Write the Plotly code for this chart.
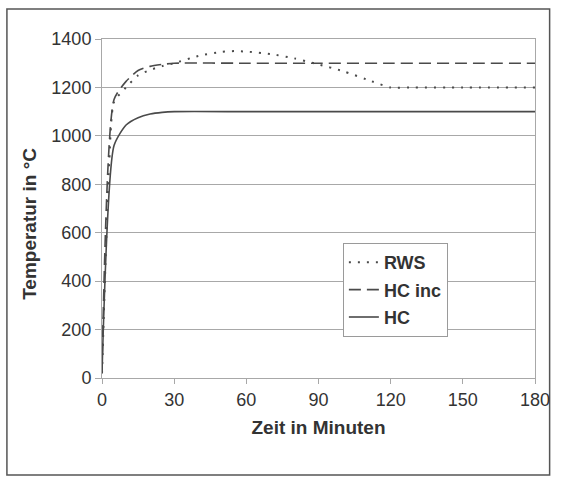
import plotly.graph_objects as go

# Time in minutes and temperatures in °C
rws_t = [0, 3, 5, 10, 15, 20, 25, 30, 40, 50, 55, 60, 70, 80, 90, 100, 110, 120, 130, 150, 180]
rws_T = [20, 890, 1140, 1200, 1250, 1272, 1288, 1300, 1330, 1347, 1350, 1348, 1338, 1320, 1295, 1268, 1233, 1200, 1200, 1200, 1200]

hcinc_t = [0, 5, 10, 15, 20, 25, 30, 60, 90, 120, 150, 180]
hcinc_T = [20, 1150, 1225, 1270, 1287, 1295, 1300, 1300, 1300, 1300, 1300, 1300]

hc_t = [0, 5, 10, 15, 20, 25, 30, 60, 90, 120, 150, 180]
hc_T = [20, 960, 1045, 1075, 1090, 1097, 1100, 1100, 1100, 1100, 1100, 1100]

x_ticks = [0, 30, 60, 90, 120, 150, 180]
y_ticks = [0, 200, 400, 600, 800, 1000, 1200, 1400]

FONT = "Liberation Sans, Arial, sans-serif"
LINE = "#4a4a4a"
GRID = "#a8a8a8"

fig = go.Figure()
fig.add_trace(go.Scatter(x=rws_t, y=rws_T, name="RWS", mode="lines", legendgroup="a",
                         line=dict(color=LINE, width=2, dash="2px,7px", shape="spline", smoothing=0.6)))
fig.add_trace(go.Scatter(x=hcinc_t, y=hcinc_T, name="HC inc", mode="lines", legendgroup="b",
                         line=dict(color=LINE, width=1.6, dash="12px,6px", shape="spline", smoothing=0.6)))
fig.add_trace(go.Scatter(x=hc_t, y=hc_T, name="HC", mode="lines", legendgroup="c",
                         line=dict(color=LINE, width=1.6, shape="spline", smoothing=0.6)))

L, R, T, B = 102, 16, 39, 99
W, H = 562, 477
pw, ph = W - L - R, H - T - B

def px2paper_x(px):
    return (px - L) / pw

def px2paper_y(py):
    return (H - B - py) / ph

fig.update_layout(
    width=W, height=H,
    margin=dict(l=L, r=R, t=T, b=B),
    paper_bgcolor="white", plot_bgcolor="white",
    font=dict(family=FONT, color="#333333", size=18),
    showlegend=True,
    legend=dict(x=px2paper_x(349), y=px2paper_y(243), xanchor="left", yanchor="top",
                bgcolor="white", bordercolor="#9a9a9a", borderwidth=1,
                font=dict(family=FONT, size=18, color="#333333", weight="bold"),
                itemwidth=30, traceorder="grouped", tracegroupgap=1),
    xaxis=dict(range=[0, 180], tickvals=x_ticks, ticktext=[str(v) for v in x_ticks],
               showgrid=False, zeroline=False, showline=True, linecolor=GRID, linewidth=1,
               mirror=True, ticks="outside", ticklen=5, tickcolor=GRID,
               tickfont=dict(size=18, color="#333333"),
               title=dict(text="Zeit in Minuten", font=dict(size=19, color="#333333", weight="bold"),
                          standoff=12)),
    yaxis=dict(range=[0, 1400], tickvals=y_ticks, ticktext=[str(v) for v in y_ticks],
               showgrid=True, gridcolor=GRID, gridwidth=1, zeroline=False,
               showline=True, linecolor=GRID, linewidth=1, mirror=True,
               ticks="outside", ticklen=6, tickcolor=GRID,
               tickfont=dict(size=18, color="#333333")),
    annotations=[dict(text="<b>Temperatur in °C</b>", textangle=-90, showarrow=False,
                      xref="paper", yref="paper", x=px2paper_x(27), y=px2paper_y(224),
                      xanchor="center", yanchor="middle",
                      font=dict(family=FONT, size=19, color="#333333"))],
    shapes=[dict(type="rect", xref="paper", yref="paper",
                 x0=px2paper_x(4.5), x1=px2paper_x(561), y0=px2paper_y(475), y1=px2paper_y(9),
                 line=dict(color="#555555", width=1.5), layer="below")],
)

fig.write_html("out.html",
               config={"displayModeBar": False},
               post_script="document.body.style.margin='0';document.body.style.overflow='hidden';")
